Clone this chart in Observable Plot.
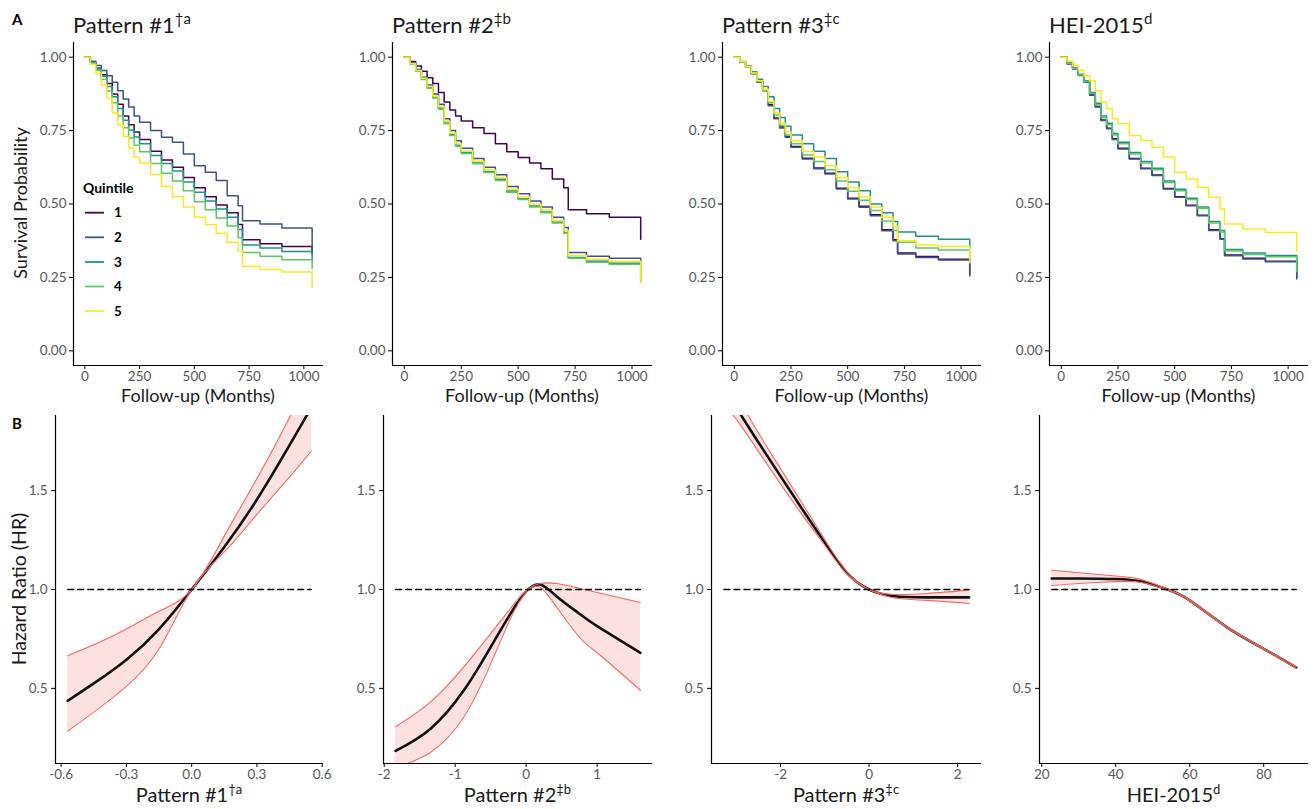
<!DOCTYPE html>
<html><head><meta charset="utf-8">
<script src="https://cdn.jsdelivr.net/npm/d3@7"></script>
<script src="https://cdn.jsdelivr.net/npm/@observablehq/plot@0.6"></script>
<style>
body{margin:0;background:#fff;}
#fig{position:relative;width:1314px;height:809px;overflow:hidden;font-family:Lato,"Noto Sans",sans-serif;}
#fig svg.panel{position:absolute;overflow:visible;}
#fig [aria-label$="tick label"]{fill:#575757;}
#overlay{position:absolute;left:0;top:0;pointer-events:none;font-family:Lato,"Noto Sans",sans-serif;}
</style></head>
<body><div id="fig"></div>
<script>
// ---------------- DATA ----------------
const quintiles = ["1", "2", "3", "4", "5"];
const viridis5 = ["#440154", "#3b528b", "#21908c", "#5dc863", "#fde725"];

const kmTitles = [["Pattern #1", "†a"], ["Pattern #2", "‡b"], ["Pattern #3", "‡c"], ["HEI-2015", "d"]];
const kmXDomain = [-51.9, 1089.9];
const kmYDomain = [-0.05, 1.05];
const kmXTicks = [0, 250, 500, 750, 1000];
const kmYTicks = [0, 0.25, 0.5, 0.75, 1];

const months = [0, 25, 50, 75, 100, 125, 150, 175, 200, 225, 250, 300, 350, 400, 450, 500, 550, 600, 650, 700, 720, 800, 900, 1038];

// Pattern #1
const p1_q1 = [1, 0.983, 0.962, 0.94, 0.91, 0.875, 0.84, 0.80, 0.77, 0.745, 0.72, 0.68, 0.65, 0.625, 0.59, 0.555, 0.525, 0.497, 0.47, 0.43, 0.378, 0.365, 0.355, 0.352];
const p1_q2 = [1, 0.986, 0.972, 0.955, 0.937, 0.915, 0.886, 0.858, 0.83, 0.80, 0.778, 0.75, 0.727, 0.71, 0.67, 0.63, 0.608, 0.58, 0.528, 0.494, 0.443, 0.432, 0.418, 0.417];
const p1_q3 = [1, 0.983, 0.96, 0.935, 0.90, 0.865, 0.825, 0.785, 0.752, 0.728, 0.705, 0.665, 0.638, 0.612, 0.575, 0.54, 0.51, 0.483, 0.455, 0.413, 0.36, 0.35, 0.338, 0.334];
const p1_q4 = [1, 0.98, 0.955, 0.925, 0.885, 0.845, 0.80, 0.76, 0.725, 0.70, 0.678, 0.638, 0.605, 0.578, 0.545, 0.508, 0.48, 0.452, 0.425, 0.385, 0.335, 0.322, 0.31, 0.307];
const p1_q5 = [1, 0.975, 0.945, 0.905, 0.86, 0.81, 0.77, 0.73, 0.69, 0.66, 0.64, 0.60, 0.56, 0.525, 0.49, 0.455, 0.43, 0.40, 0.37, 0.34, 0.288, 0.277, 0.268, 0.265];
const p1_end = [0.33, 0.335, 0.31, 0.28, 0.215];

// Pattern #2
const p2_q1 = [1, 0.985, 0.97, 0.952, 0.93, 0.91, 0.88, 0.847, 0.82, 0.80, 0.783, 0.76, 0.74, 0.705, 0.678, 0.658, 0.64, 0.62, 0.585, 0.555, 0.48, 0.467, 0.455, 0.455];
const p2_q2 = [1, 0.98, 0.958, 0.932, 0.905, 0.875, 0.84, 0.79, 0.75, 0.715, 0.69, 0.655, 0.625, 0.60, 0.56, 0.535, 0.51, 0.49, 0.455, 0.42, 0.335, 0.322, 0.315, 0.313];
const p2_q3 = [1, 0.977, 0.953, 0.925, 0.896, 0.863, 0.826, 0.776, 0.736, 0.70, 0.675, 0.64, 0.61, 0.584, 0.544, 0.518, 0.493, 0.473, 0.438, 0.403, 0.318, 0.305, 0.298, 0.296];
const p2_q4 = [1, 0.977, 0.952, 0.924, 0.894, 0.861, 0.823, 0.773, 0.733, 0.697, 0.672, 0.637, 0.607, 0.58, 0.54, 0.515, 0.49, 0.47, 0.435, 0.40, 0.315, 0.302, 0.295, 0.293];
const p2_q5 = [1, 0.978, 0.955, 0.928, 0.9, 0.868, 0.832, 0.782, 0.742, 0.706, 0.681, 0.646, 0.616, 0.59, 0.55, 0.525, 0.5, 0.48, 0.445, 0.41, 0.325, 0.312, 0.305, 0.303];
const p2_end = [0.38, 0.30, 0.235, 0.235, 0.235];

// Pattern #3
const p3_q1 = [1, 0.984, 0.967, 0.945, 0.917, 0.888, 0.838, 0.793, 0.762, 0.73, 0.696, 0.656, 0.623, 0.605, 0.554, 0.52, 0.492, 0.463, 0.412, 0.378, 0.333, 0.321, 0.312, 0.31];
const p3_q2 = [1, 0.983, 0.966, 0.943, 0.915, 0.886, 0.835, 0.79, 0.759, 0.727, 0.693, 0.653, 0.62, 0.602, 0.551, 0.517, 0.489, 0.46, 0.409, 0.375, 0.33, 0.318, 0.309, 0.307];
const p3_q3 = [1, 0.985, 0.97, 0.95, 0.925, 0.9, 0.865, 0.825, 0.795, 0.765, 0.735, 0.705, 0.68, 0.655, 0.61, 0.575, 0.545, 0.50, 0.47, 0.44, 0.405, 0.39, 0.38, 0.378];
const p3_q4 = [1, 0.984, 0.966, 0.944, 0.917, 0.886, 0.845, 0.803, 0.767, 0.735, 0.705, 0.667, 0.645, 0.617, 0.578, 0.543, 0.513, 0.478, 0.442, 0.41, 0.37, 0.35, 0.343, 0.341];
const p3_q5 = [1, 0.985, 0.968, 0.946, 0.92, 0.89, 0.85, 0.81, 0.775, 0.745, 0.715, 0.68, 0.66, 0.63, 0.59, 0.555, 0.525, 0.49, 0.455, 0.425, 0.375, 0.36, 0.355, 0.352];
const p3_end = [0.26, 0.255, 0.35, 0.30, 0.30];

// HEI-2015
const p4_q1 = [1, 0.979, 0.962, 0.94, 0.917, 0.872, 0.832, 0.786, 0.758, 0.722, 0.69, 0.655, 0.622, 0.599, 0.553, 0.525, 0.496, 0.462, 0.412, 0.382, 0.326, 0.315, 0.305, 0.304];
const p4_q2 = [1, 0.977, 0.96, 0.9375, 0.915, 0.87, 0.83, 0.784, 0.756, 0.72, 0.6875, 0.653, 0.62, 0.597, 0.551, 0.523, 0.494, 0.46, 0.41, 0.38, 0.324, 0.3125, 0.303, 0.302];
const p4_q3 = [1, 0.98, 0.963, 0.942, 0.92, 0.88, 0.843, 0.80, 0.775, 0.74, 0.71, 0.675, 0.645, 0.622, 0.578, 0.55, 0.52, 0.49, 0.44, 0.41, 0.345, 0.333, 0.325, 0.324];
const p4_q4 = [1, 0.979, 0.962, 0.94, 0.917, 0.876, 0.838, 0.795, 0.77, 0.735, 0.705, 0.67, 0.64, 0.617, 0.573, 0.545, 0.515, 0.485, 0.435, 0.405, 0.34, 0.328, 0.32, 0.319];
const p4_q5 = [1, 0.986, 0.972, 0.955, 0.937, 0.92, 0.886, 0.847, 0.824, 0.79, 0.773, 0.733, 0.716, 0.693, 0.66, 0.608, 0.585, 0.557, 0.523, 0.483, 0.432, 0.415, 0.403, 0.403];
const p4_end = [0.25, 0.245, 0.27, 0.27, 0.34];

// Hazard-ratio splines
const hrDomain = [0.12, 1.88];
const hrTicks = [0.5, 1.0, 1.5];

const hr1_x  = [-0.57, -0.45, -0.3, -0.15, 0, 0.15, 0.3, 0.45, 0.55];
const hr1_hr = [0.437, 0.525, 0.645, 0.80, 1.0, 1.215, 1.455, 1.73, 1.92];
const hr1_lo = [0.284, 0.38, 0.51, 0.70, 1.0, 1.19, 1.38, 1.57, 1.70];
const hr1_hi = [0.665, 0.72, 0.80, 0.89, 1.0, 1.27, 1.56, 1.87, 2.10];
const hr1_dom = [-0.626, 0.606];
const hr1_ticks = [-0.6, -0.3, 0, 0.3, 0.6];

const hr2_x  = [-1.84, -1.35, -0.88, -0.5, -0.22, 0, 0.2, 0.43, 0.76, 1.0, 1.61];
const hr2_hr = [0.184, 0.295, 0.489, 0.709, 0.878, 0.99, 1.025, 0.965, 0.875, 0.815, 0.68];
const hr2_lo = [0.10, 0.176, 0.354, 0.624, 0.853, 0.985, 1.01, 0.91, 0.755, 0.68, 0.49];
const hr2_hi = [0.306, 0.43, 0.607, 0.777, 0.904, 0.995, 1.03, 1.03, 1.005, 0.985, 0.934];
const hr2_dom = [-2.01, 1.78];
const hr2_ticks = [-2, -1, 0, 1];

const hr3_x  = [-3.28, -2.9, -2.4, -1.55, -0.94, -0.49, 0, 0.57, 1.32, 2.26];
const hr3_hr = [2.03, 1.885, 1.71, 1.42, 1.217, 1.081, 1.0, 0.966, 0.96, 0.96];
const hr3_lo = [1.94, 1.83, 1.665, 1.39, 1.205, 1.075, 1.0, 0.957, 0.945, 0.929];
const hr3_hi = [2.12, 1.95, 1.755, 1.45, 1.23, 1.088, 1.0, 0.975, 0.98, 0.997];
const hr3_dom = [-3.56, 2.54];
const hr3_ticks = [-2, 0, 2];

const hr4_x  = [22.7, 30, 40, 47, 54, 60, 70, 80, 88.8];
const hr4_hr = [1.056, 1.056, 1.053, 1.04, 1.0, 0.945, 0.81, 0.70, 0.605];
const hr4_lo = [1.02, 1.03, 1.04, 1.035, 0.997, 0.942, 0.807, 0.697, 0.601];
const hr4_hi = [1.097, 1.085, 1.068, 1.05, 1.003, 0.948, 0.813, 0.703, 0.609];
const hr4_dom = [19.4, 92.1];
const hr4_ticks = [20, 40, 60, 80];

// ---------------- LAYOUT ----------------
const topFramesX = [[73, 323], [392, 652], [722, 981], [1049, 1308]];
const topFrameY = [42, 365];
const botFramesX = [[55, 323], [383, 652], [711, 981], [1039, 1308]];
const botFrameY = [415, 763];
const ML = 48, MR = 6, MT = 4, MB = 24;

const fig = document.getElementById("fig");
const FONT = "Lato, 'Noto Sans', sans-serif";

function place(svg, fx, fy) {
  svg.classList.add("panel");
  svg.style.left = (fx[0] - ML) + "px";
  svg.style.top = (fy[0] - MT) + "px";
  fig.appendChild(svg);
}

const kmSets = [
  [[p1_q1, p1_q2, p1_q3, p1_q4, p1_q5], p1_end],
  [[p2_q1, p2_q2, p2_q3, p2_q4, p2_q5], p2_end],
  [[p3_q1, p3_q2, p3_q3, p3_q4, p3_q5], p3_end],
  [[p4_q1, p4_q2, p4_q3, p4_q4, p4_q5], p4_end]
];

kmSets.forEach(([series, ends], k) => {
  const rows = [];
  series.forEach((arr, qi) => {
    arr.forEach((s, i) => rows.push({t: months[i], s, q: quintiles[qi]}));
    rows.push({t: months[months.length - 1], s: ends[qi], q: quintiles[qi]});
  });
  const fx = topFramesX[k], fy = topFrameY;
  const w = fx[1] - fx[0], h = fy[1] - fy[0];
  const svg = Plot.plot({
    width: ML + w + MR, height: MT + h + MB,
    marginLeft: ML, marginRight: MR, marginTop: MT, marginBottom: MB,
    x: {domain: kmXDomain},
    y: {domain: kmYDomain},
    color: {domain: quintiles, range: viridis5},
    style: {fontFamily: FONT, fontSize: "13.5px", color: "black", background: "transparent", overflow: "visible"},
    marks: [
      Plot.line(rows, {x: "t", y: "s", z: "q", stroke: "q", curve: "step-after", strokeWidth: 1.5}),
      Plot.ruleX([kmXDomain[0]], {stroke: "black", strokeWidth: 1.2}),
      Plot.ruleY([kmYDomain[0]], {stroke: "black", strokeWidth: 1.2}),
      Plot.axisX({ticks: kmXTicks, tickSize: 4, tickPadding: 2, label: null, tickFormat: d => String(d)}),
      Plot.axisY({ticks: kmYTicks, tickSize: 4, tickPadding: 3, label: null, tickFormat: d => d.toFixed(2)})
    ]
  });
  place(svg, fx, fy);
});

const hrSets = [
  [hr1_x, hr1_hr, hr1_lo, hr1_hi, hr1_dom, hr1_ticks, d => d.toFixed(1)],
  [hr2_x, hr2_hr, hr2_lo, hr2_hi, hr2_dom, hr2_ticks, d => String(d)],
  [hr3_x, hr3_hr, hr3_lo, hr3_hi, hr3_dom, hr3_ticks, d => String(d)],
  [hr4_x, hr4_hr, hr4_lo, hr4_hi, hr4_dom, hr4_ticks, d => String(d)]
];

hrSets.forEach(([xs, hr, lo, hi, dom, ticks, fmt], k) => {
  const rows = xs.map((x, i) => ({x, hr: hr[i], lo: lo[i], hi: hi[i]}));
  const ext = d3.extent(xs);
  const ref = ext.map(x => ({x, y: 1}));
  const fx = botFramesX[k], fy = botFrameY;
  const w = fx[1] - fx[0], h = fy[1] - fy[0];
  const curve = "natural";
  const svg = Plot.plot({
    width: ML + w + MR, height: MT + h + MB,
    marginLeft: ML, marginRight: MR, marginTop: MT, marginBottom: MB,
    x: {domain: dom},
    y: {domain: hrDomain},
    style: {fontFamily: FONT, fontSize: "13.5px", color: "black", background: "transparent", overflow: "visible"},
    marks: [
      Plot.areaY(rows, {x: "x", y1: "lo", y2: "hi", fill: "#fde0e0", curve, clip: true}),
      Plot.line(rows, {x: "x", y: "hr", stroke: "#111", strokeWidth: 2.6, curve, clip: true}),
      Plot.line(rows, {x: "x", y: "lo", stroke: "#f46a60", strokeWidth: 1.1, curve, clip: true}),
      Plot.line(rows, {x: "x", y: "hi", stroke: "#f46a60", strokeWidth: 1.1, curve, clip: true}),
      Plot.line(ref, {x: "x", y: "y", stroke: "black", strokeWidth: 1.3, strokeDasharray: "6,4"}),
      Plot.ruleX([dom[0]], {stroke: "black", strokeWidth: 1.2}),
      Plot.ruleY([hrDomain[0]], {stroke: "black", strokeWidth: 1.2}),
      Plot.axisX({ticks, tickSize: 4, tickPadding: 2, label: null, tickFormat: fmt}),
      Plot.axisY({ticks: hrTicks, tickSize: 4, tickPadding: 4, label: null, tickFormat: d => d.toFixed(1)})
    ]
  });
  place(svg, fx, fy);
});

// ---------------- TEXT OVERLAY ----------------
const NS = "http://www.w3.org/2000/svg";
const ov = document.createElementNS(NS, "svg");
ov.setAttribute("id", "overlay");
ov.setAttribute("width", 1314);
ov.setAttribute("height", 809);
fig.appendChild(ov);

function txt(x, y, parts, opts = {}) {
  const t = document.createElementNS(NS, "text");
  t.setAttribute("x", x); t.setAttribute("y", y);
  t.setAttribute("font-size", opts.size || 18);
  t.setAttribute("fill", opts.fill || "#1a1a1a");
  if (opts.anchor) t.setAttribute("text-anchor", opts.anchor);
  if (opts.weight) t.setAttribute("font-weight", opts.weight);
  if (opts.rotate) t.setAttribute("transform", `rotate(${opts.rotate},${x},${y})`);
  const [main, sup] = Array.isArray(parts) ? parts : [parts];
  const a = document.createElementNS(NS, "tspan"); a.textContent = main; t.appendChild(a);
  if (sup) {
    const b = document.createElementNS(NS, "tspan");
    b.textContent = sup;
    b.setAttribute("font-size", Math.round((opts.size || 18) * 0.66));
    b.setAttribute("dy", -Math.round((opts.size || 18) * 0.4));
    t.appendChild(b);
  }
  ov.appendChild(t);
}

txt(12, 25, "A", {size: 15, weight: "bold", fill: "#000"});
txt(12, 429, "B", {size: 15, weight: "bold", fill: "#000"});

kmTitles.forEach((tt, k) => {
  txt(topFramesX[k][0], 33, tt, {size: 22});
  txt((topFramesX[k][0] + topFramesX[k][1]) / 2, 402, "Follow-up (Months)", {size: 18, anchor: "middle"});
  txt((botFramesX[k][0] + botFramesX[k][1]) / 2, 802, tt, {size: 20, anchor: "middle"});
});

txt(27, 203, "Survival Probability", {size: 18, anchor: "middle", rotate: -90});
txt(26, 589, "Hazard Ratio (HR)", {size: 19.5, anchor: "middle", rotate: -90});

// Legend
txt(83, 193, "Quintile", {size: 14, weight: "bold", fill: "#000"});
const legY = [212.7, 237.3, 262, 286.5, 311];
quintiles.forEach((q, i) => {
  const l = document.createElementNS(NS, "line");
  l.setAttribute("x1", 85); l.setAttribute("x2", 104);
  l.setAttribute("y1", legY[i]); l.setAttribute("y2", legY[i]);
  l.setAttribute("stroke", viridis5[i]); l.setAttribute("stroke-width", 1.8);
  ov.appendChild(l);
  txt(114, legY[i] + 4.5, q, {size: 13.5, weight: "bold", fill: "#000"});
});
</script>
</body></html>
